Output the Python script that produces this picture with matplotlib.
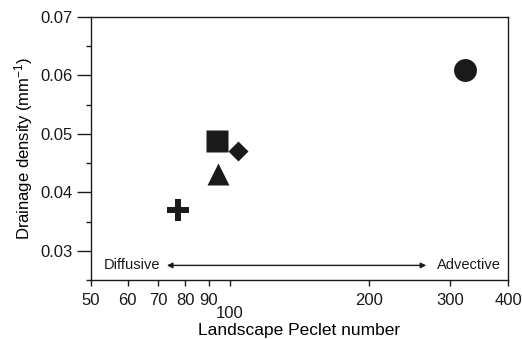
import matplotlib
matplotlib.use('Agg')
from matplotlib import pyplot as plt
from matplotlib.ticker import FixedLocator, NullFormatter, MultipleLocator

# %% data
peclet = [323, 93.5, 104, 94, 77]
density = [0.061, 0.0488, 0.0470, 0.0431, 0.0370]
markers = ['o', 's', 'D', '^', '+']
sizes = [16.5, 16.5, 10.5, 16.5, 16.5]

x_ticks = [50, 60, 70, 80, 90, 100, 200, 300, 400]
x_labels = ['50', '60', '70', '80', '90', '100', '200', '300', '400']

# %% plot
plt.rcParams.update({
    "font.family": ["Liberation Sans", "DejaVu Sans"],
    "mathtext.fontset": "custom",
    "mathtext.rm": "Liberation Sans",
    "mathtext.it": "Liberation Sans",
    "text.color": "#1a1a1a",
    "axes.edgecolor": "#1a1a1a",
    "xtick.color": "#1a1a1a",
    "ytick.color": "#1a1a1a",
})
fig = plt.figure(figsize=(5.22, 3.39), dpi=100)
ax = fig.add_axes([0.1743, 0.174, 0.799, 0.776])

for x, y, m, s in zip(peclet, density, markers, sizes):
    if m == '+':
        ax.plot(x, y, marker=m, markersize=s, color='#1a1a1a', mew=4.3, linestyle='none')
    else:
        ax.plot(x, y, marker=m, markersize=s, color='#1a1a1a', mec='none', linestyle='none')

ax.set_xscale('log')
ax.set_xlim(50, 400)
ax.set_ylim(0.025, 0.07)
ax.xaxis.set_major_locator(FixedLocator(x_ticks))
ax.set_xticklabels(x_labels)
ax.xaxis.set_minor_formatter(NullFormatter())
ax.xaxis.set_minor_locator(FixedLocator([]))
ax.yaxis.set_major_locator(MultipleLocator(0.01))
ax.yaxis.set_minor_locator(MultipleLocator(0.005))
ax.yaxis.set_major_formatter(plt.FormatStrFormatter('%.2f'))
ax.tick_params(axis='both', which='major', labelsize=12, width=1, direction='out')
ax.tick_params(axis='x', pad=5, length=4)
ax.tick_params(axis='y', which='major', length=10, pad=3)
ax.tick_params(axis='y', which='minor', length=3.5, width=1)
ax.xaxis.get_major_ticks()[5].set_pad(15)
for sp in ax.spines.values():
    sp.set_linewidth(1)

ax.annotate('', xy=(73, 0.0275), xytext=(266, 0.0275),
            arrowprops=dict(arrowstyle='<|-|>', color='#1a1a1a', lw=1, mutation_scale=8,
                            shrinkA=0, shrinkB=0))
ax.text(70.5, 0.0275, 'Diffusive', fontsize=10.5, ha='right', va='center')
ax.text(280, 0.0275, 'Advective', fontsize=10.5, ha='left', va='center')

ax.set_xlabel('Landscape Peclet number', fontsize=12.5, labelpad=1.5)
ax.set_ylabel('Drainage density (mm$^{-1}$)', fontsize=12, labelpad=4)

fig.savefig('out.png', dpi=100)
